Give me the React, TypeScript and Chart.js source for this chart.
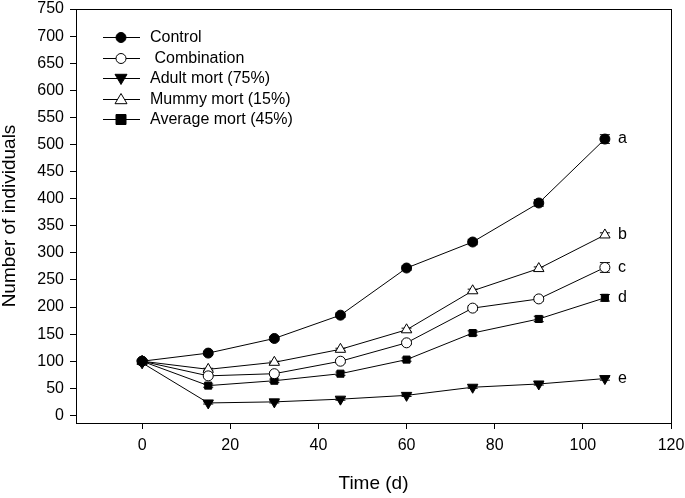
import React, { useEffect, useRef } from "react";
import { Chart, registerables } from "chart.js";

Chart.register(...registerables);

const days = [0, 15, 30, 45, 60, 75, 90, 105];
const control = [100, 115, 142, 185, 272, 320, 392, 510];
const combination = [100, 73, 77, 100, 134, 198, 215, 273];
const adultMort = [97, 23, 25, 30, 37, 52, 58, 68];
const mummyMort = [100, 85, 98, 122, 158, 230, 271, 333];
const averageMort = [100, 55, 64, 77, 103, 152, 178, 217];

const controlErr = [3, 3, 3, 4, 4, 5, 6, 8];
const combinationErr = [3, 2, 3, 3, 3, 4, 4, 9];
const adultErr = [3, 2, 2, 2, 2, 2, 2, 3];
const mummyErr = [3, 2, 2, 2, 3, 3, 3, 4];
const averageErr = [3, 3, 3, 3, 3, 4, 5, 6];

const seriesNames = ["Control", " Combination", "Adult mort (75%)", "Mummy mort (15%)", "Average mort (45%)"];
const seriesLetters = ["a", "c", "e", "b", "d"];

const xTicks = [0, 20, 40, 60, 80, 100, 120];
const yTicks = [0, 50, 100, 150, 200, 250, 300, 350, 400, 450, 500, 550, 600, 650, 700, 750];

const FONT = "Arial, 'Liberation Sans', sans-serif";

type Marker = { style: string; fill: string; radius: number };
const markers: Marker[] = [
  { style: "circle", fill: "#000", radius: 5 },
  { style: "circle", fill: "#fff", radius: 5 },
  { style: "triangleDown", fill: "#000", radius: 6 },
  { style: "triangle", fill: "#fff", radius: 6 },
  { style: "rect", fill: "#000", radius: 5 },
];

function drawMarker(ctx: CanvasRenderingContext2D, m: Marker, x: number, y: number) {
  ctx.save();
  ctx.fillStyle = m.fill;
  ctx.strokeStyle = "#000";
  ctx.lineWidth = 1;
  ctx.beginPath();
  const r = m.radius;
  if (m.style === "circle") {
    ctx.arc(x, y, r, 0, Math.PI * 2);
  } else if (m.style === "rect") {
    ctx.rect(x - r, y - r, 2 * r, 2 * r);
  } else if (m.style === "triangle") {
    ctx.moveTo(x, y - r);
    ctx.lineTo(x + r, y + r * 0.7);
    ctx.lineTo(x - r, y + r * 0.7);
    ctx.closePath();
  } else if (m.style === "triangleDown") {
    ctx.moveTo(x, y + r);
    ctx.lineTo(x + r, y - r * 0.7);
    ctx.lineTo(x - r, y - r * 0.7);
    ctx.closePath();
  }
  ctx.fill();
  ctx.stroke();
  ctx.restore();
}

const allSeries = [control, combination, adultMort, mummyMort, averageMort];
const allErr = [controlErr, combinationErr, adultErr, mummyErr, averageErr];

export default function App() {
  const ref = useRef<HTMLCanvasElement | null>(null);
  useEffect(() => {
    if (!ref.current) return;

    const customPlugin = {
      id: "custom",
      beforeDatasetsDraw(chart: any) {
        const ctx = chart.ctx as CanvasRenderingContext2D;
        const xs = chart.scales.x;
        const ys = chart.scales.y;
        ctx.save();
        ctx.strokeStyle = "#000";
        ctx.lineWidth = 1;
        allSeries.forEach((s, i) => {
          s.forEach((v, j) => {
            const e = allErr[i][j];
            const px = xs.getPixelForValue(days[j]);
            const y1 = ys.getPixelForValue(v + e);
            const y2 = ys.getPixelForValue(v - e);
            ctx.beginPath();
            ctx.moveTo(px, y1);
            ctx.lineTo(px, y2);
            ctx.moveTo(px - 5, y1);
            ctx.lineTo(px + 5, y1);
            ctx.moveTo(px - 5, y2);
            ctx.lineTo(px + 5, y2);
            ctx.stroke();
          });
        });
        ctx.restore();
      },
      afterDatasetsDraw(chart: any) {
        const ctx = chart.ctx as CanvasRenderingContext2D;
        const xs = chart.scales.x;
        const ys = chart.scales.y;
        const a = chart.chartArea;
        ctx.save();
        // frame
        ctx.strokeStyle = "#000";
        ctx.lineWidth = 1;
        ctx.strokeRect(Math.round(a.left) + 0.5, Math.round(a.top) + 0.5, Math.round(a.right - a.left), Math.round(a.bottom - a.top));
        // letters
        ctx.fillStyle = "#000";
        ctx.font = "16px " + FONT;
        ctx.textBaseline = "middle";
        ctx.textAlign = "left";
        allSeries.forEach((s, i) => {
          const last = s.length - 1;
          const px = xs.getPixelForValue(days[last]);
          const py = ys.getPixelForValue(s[last]);
          ctx.fillText(seriesLetters[i], px + 13, py);
        });
        // legend
        const rowY = [37, 58, 78, 99, 119];
        seriesNames.forEach((name, i) => {
          const y = rowY[i];
          ctx.beginPath();
          ctx.moveTo(103, y + 0.5);
          ctx.lineTo(140, y + 0.5);
          ctx.stroke();
          drawMarker(ctx, markers[i], 121, y + 0.5);
          ctx.fillStyle = "#000";
          ctx.fillText(name, 150, y + 1);
        });
        ctx.restore();
      },
    };

    const chart = new Chart(ref.current, {
      type: "line",
      data: {
        datasets: allSeries.map((s, i) => ({
          label: seriesNames[i],
          data: s.map((v, j) => ({ x: days[j], y: v })),
          borderColor: "#000",
          borderWidth: 1,
          backgroundColor: markers[i].fill,
          pointBackgroundColor: markers[i].fill,
          pointBorderColor: "#000",
          pointBorderWidth: 1,
          pointStyle: markers[i].style === "triangleDown" ? "triangle" : markers[i].style,
          pointRotation: markers[i].style === "triangleDown" ? 180 : 0,
          pointRadius: markers[i].radius,
          tension: 0,
          fill: false,
        })),
      },
      options: {
        animation: false,
        responsive: false,
        maintainAspectRatio: false,
        layout: { padding: { top: 9, right: 14, left: 0, bottom: 0 } },
        plugins: {
          legend: { display: false },
          tooltip: { enabled: false },
        },
        scales: {
          x: {
            type: "linear",
            min: -15,
            max: 120,
            afterBuildTicks: (scale: any) => {
              scale.ticks = xTicks.map((v) => ({ value: v }));
            },
            afterFit: (scale: any) => {
              scale.height = 75;
              scale.paddingLeft = 0;
              scale.paddingRight = 0;
            },
            grid: { drawOnChartArea: false, drawTicks: true, tickLength: 6, color: "#000" },
            border: { display: true, color: "#000", width: 1 },
            ticks: { color: "#000", font: { size: 16, family: FONT }, padding: 7, maxRotation: 0 },
            title: { display: true, text: "Time (d)", color: "#000", font: { size: 19, family: FONT, lineHeight: 1.2 }, padding: { top: 0, bottom: 3 } },
          },
          y: {
            type: "linear",
            min: -14,
            max: 750,
            afterBuildTicks: (scale: any) => {
              scale.ticks = yTicks.map((v) => ({ value: v }));
            },
            afterFit: (scale: any) => {
              scale.width = 76;
              scale.paddingTop = 0;
              scale.paddingBottom = 0;
            },
            grid: { drawOnChartArea: false, drawTicks: true, tickLength: 6, color: "#000" },
            border: { display: true, color: "#000", width: 1 },
            ticks: { color: "#000", font: { size: 16, family: FONT }, padding: 6 },
            title: { display: true, text: "Number of individuals", color: "#000", font: { size: 19, family: FONT, lineHeight: 1 }, padding: { top: 0, bottom: 0 } },
          },
        },
      },
      plugins: [customPlugin],
    } as any);
    return () => chart.destroy();
  }, []);

  return (
    <div style={{ position: "fixed", left: 0, top: 0, width: 685, height: 498, background: "#fff" }}>
      <canvas ref={ref} width={685} height={498} style={{ width: 685, height: 498, display: "block" }} />
    </div>
  );
}
